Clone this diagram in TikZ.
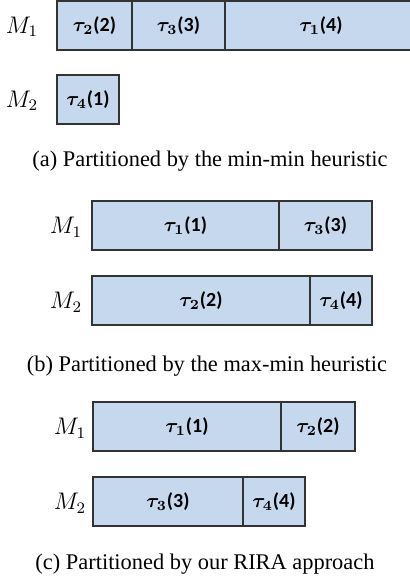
\documentclass[tikz,border=0pt]{standalone}
\usepackage{bm}
\usepackage{fontspec}
\setmainfont{Liberation Serif}
\newfontfamily\taskfont{Carlito}
\usetikzlibrary{positioning}
\definecolor{taskfill}{HTML}{C6D8EE}
\definecolor{taskline}{HTML}{333333}
\newcommand{\tk}[2]{$\bm{\tau}_{\bm{#1}}$(#2)\hspace{5pt}}

\begin{document}
\begin{tikzpicture}[
  x=0.5pt, y=-0.5pt,
  task/.style={draw=taskline, line width=0.7pt, fill=taskfill, inner sep=0pt,
               outer sep=0pt, minimum height=24.5pt,
               font=\taskfont\fontsize{10}{12}\selectfont\bfseries},
  mach/.style={font=\fontsize{11.5}{13}\selectfont, inner sep=0pt},
  subcap/.style={font=\fontsize{11.2}{14}\selectfont, inner sep=0pt}
]
\useasboundingbox (0,0) rectangle (409,583);

% ===== (a) min-min =====
\node[mach] (a-m1) at (22,27) {$M_1$};
\node[task, anchor=north west, minimum width=37.5pt] (a-t2) at (57,1) {\tk{2}{2}};
\node[task, right=0pt of a-t2, minimum width=46.5pt] (a-t3) {\tk{3}{3}};
\node[task, right=0pt of a-t3, minimum width=96pt] (a-t1) {\tk{1}{4}};
\node[mach] (a-m2) at (22,101) {$M_2$};
\node[task, anchor=north west, minimum width=31pt] (a-t4) at (57,75) {\tk{4}{1}};
\node[subcap] (a-cap) at (210,161) {(a) Partitioned by the min-min heuristic};

% ===== (b) max-min =====
\node[mach] (b-m1) at (66,227) {$M_1$};
\node[task, anchor=north west, minimum width=93.5pt] (b-t1) at (92,201) {\tk{1}{1}};
\node[task, right=0pt of b-t1, minimum width=46.5pt] (b-t3) {\tk{3}{3}};
\node[mach] (b-m2) at (66,302) {$M_2$};
\node[task, anchor=north west, minimum width=109pt] (b-t2) at (92,276) {\tk{2}{2}};
\node[task, right=0pt of b-t2, minimum width=31pt] (b-t4) {\tk{4}{4}};
\node[subcap] (b-cap) at (207,366) {(b) Partitioned by the max-min heuristic};

% ===== (c) RIRA =====
\node[mach] (c-m1) at (70,428) {$M_1$};
\node[task, anchor=north west, minimum width=94pt] (c-t1) at (93,402) {\tk{1}{1}};
\node[task, right=0pt of c-t1, minimum width=37pt] (c-t2) {\tk{2}{2}};
\node[mach] (c-m2) at (70,503) {$M_2$};
\node[task, anchor=north west, minimum width=75pt] (c-t3) at (93,477) {\tk{3}{3}};
\node[task, right=0pt of c-t3, minimum width=31pt] (c-t4) {\tk{4}{4}};
\node[subcap] (c-cap) at (205,564) {(c) Partitioned by our RIRA approach};
\end{tikzpicture}
\end{document}
